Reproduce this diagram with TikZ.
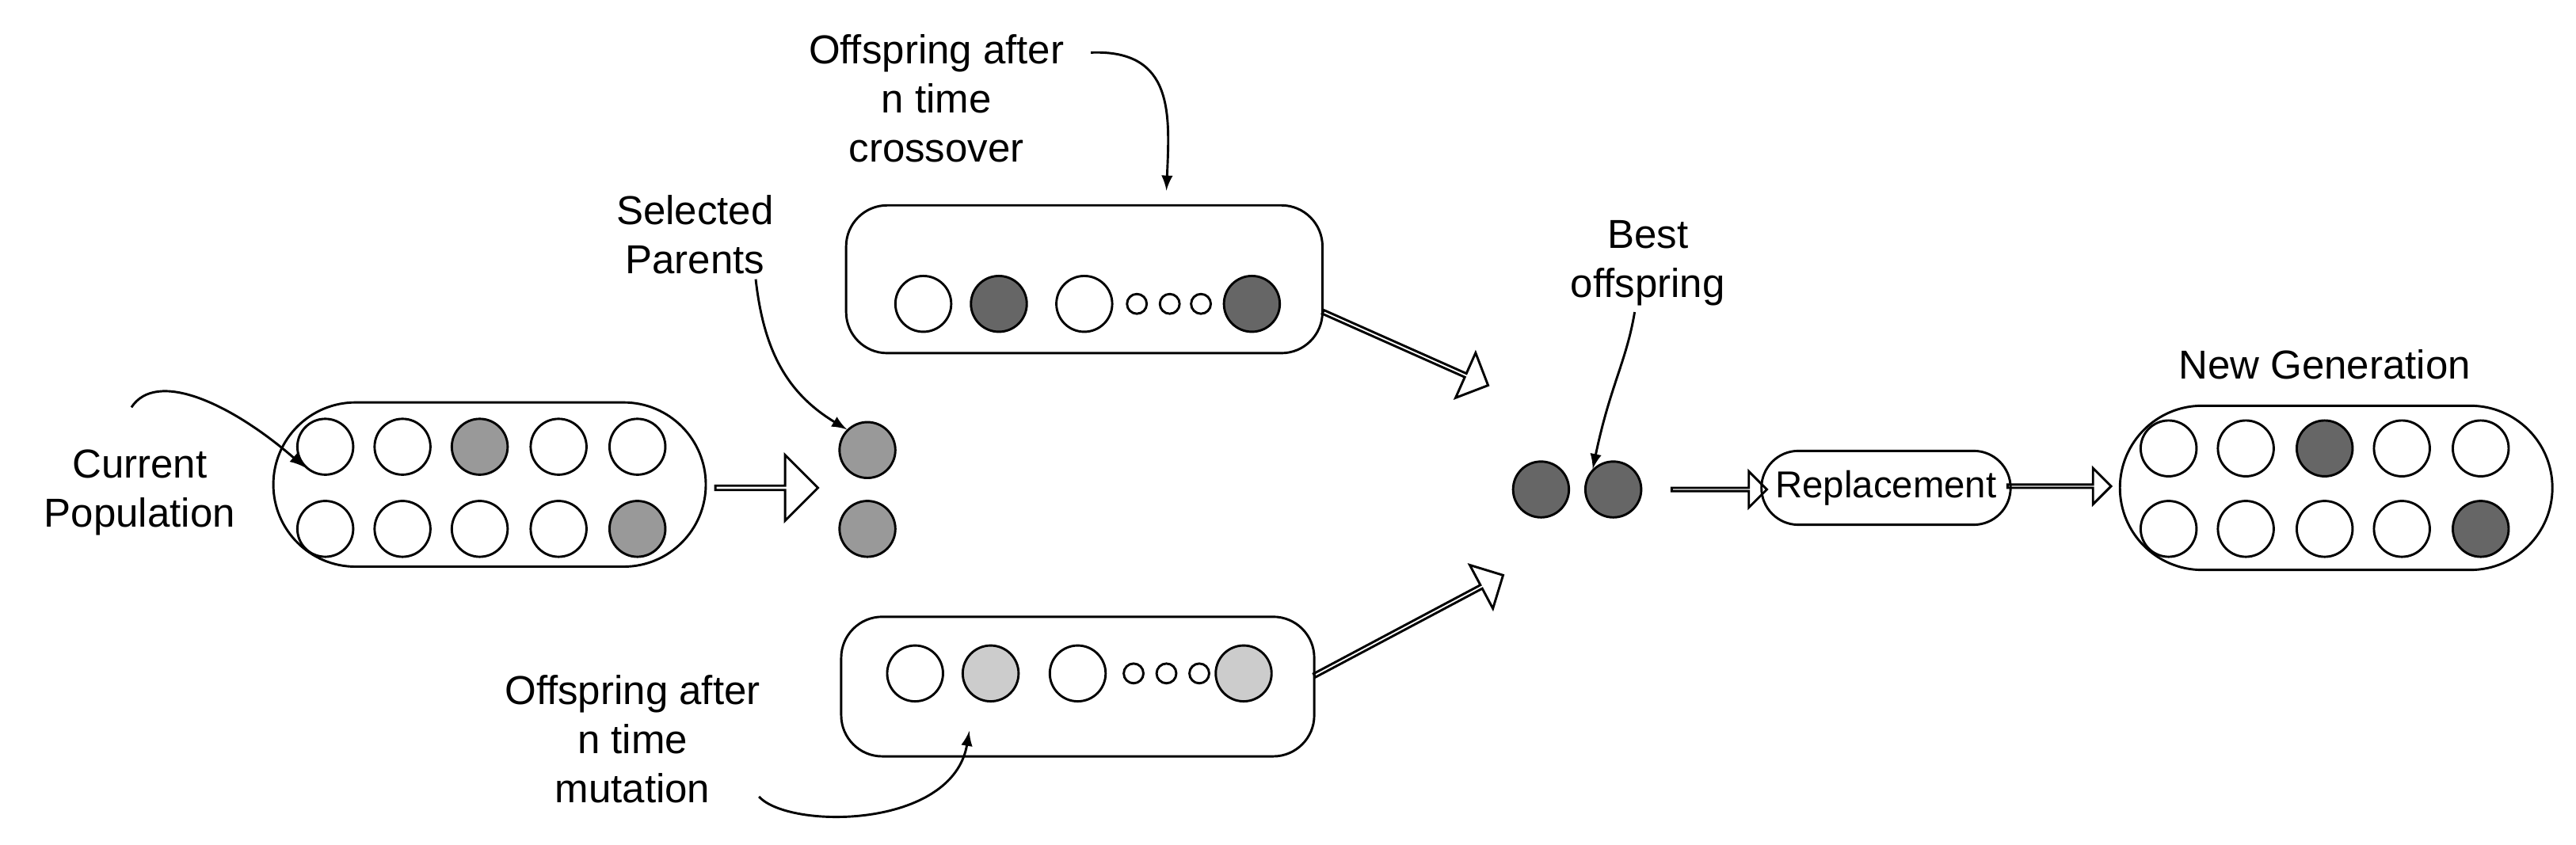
\documentclass[tikz,border=0pt]{standalone}
\usepackage{fontspec}
\setmainfont{Liberation Sans}
\usetikzlibrary{shapes.misc,shapes.arrows,positioning}

\definecolor{midgray}{HTML}{999999}
\definecolor{darkgray}{HTML}{666666}
\definecolor{lightgray}{HTML}{CCCCCC}

\tikzset{
  pop/.style={draw, thick, rounded rectangle, minimum width=5.5cm, minimum height=2cm},
  pool/.style={draw, thick, rounded corners=0.5cm, minimum width=5.8cm, minimum height=1.8cm},
  ind/.style={draw, thick, circle, minimum size=0.68cm, inner sep=0pt},
  dot/.style={draw, thick, circle, minimum size=0.24cm, inner sep=0pt},
  blk/.style={draw, thick, single arrow, minimum height=1.25cm, minimum width=0.8cm,
    single arrow head extend=0.2cm, inner sep=0pt},
  lbl/.style={align=center, font=\fontsize{14}{17}\selectfont},
  curv/.style={-latex, thick}
}

\begin{document}
\begin{tikzpicture}[x=0.02cm, y=-0.02cm]
  \useasboundingbox (0,0) rectangle (1568,514);

  % current population
  \node[pop] (cur) at (298,295) {};
  \foreach \x/\c [count=\i] in {198/white,245/white,292/midgray,340/white,388/white}
    \node[ind, fill=\c] (ca\i) at (\x,272) {};
  \foreach \x/\c [count=\i] in {198/white,245/white,292/white,340/white,388/midgray}
    \node[ind, fill=\c] (cb\i) at (\x,322) {};
  \node[lbl] (curlbl) at (85,300) {Current\\Population};

  % selected parents
  \node[blk] (a1) at (466,297) {};
  \node[ind, fill=midgray] (p1) at (528,274) {};
  \node[ind, fill=midgray] (p2) at (528,322) {};
  \node[lbl] (sellbl) at (423,143) {Selected\\Parents};

  % crossover pool
  \node[pool] (xo) at (660,170) {};
  \node[ind] (x1) at (562,185) {};
  \node[ind, fill=darkgray] (x2) at (608,185) {};
  \node[ind] (x3) at (660,185) {};
  \foreach \x [count=\i] in {692,712,731} \node[dot] (xd\i) at (\x,185) {};
  \node[ind, fill=darkgray] (x4) at (762,185) {};
  \node[lbl] (xolbl) at (570,60) {Offspring after\\n time\\crossover};

  % mutation pool
  \node[pool, minimum width=5.76cm, minimum height=1.7cm] (mu) at (656,418) {};
  \node[ind] (m1) at (557,410) {};
  \node[ind, fill=lightgray] (m2) at (603,410) {};
  \node[ind] (m3) at (656,410) {};
  \foreach \x [count=\i] in {690,710,730} \node[dot] (md\i) at (\x,410) {};
  \node[ind, fill=lightgray] (m4) at (757,410) {};
  \node[lbl] (mulbl) at (385,450) {Offspring after\\n time\\mutation};

  \node[blk, rotate=-24, minimum height=2.2cm, minimum width=0.6cm,
    single arrow head extend=0.16cm] (a2) at (855,212) {};
  \node[blk, rotate=28, minimum height=2.6cm, minimum width=0.6cm,
    single arrow head extend=0.16cm] (a3) at (857,381) {};

  % best offspring
  \node[ind, fill=darkgray] (b1) at (938,298) {};
  \node[ind, fill=darkgray] (b2) at (982,298) {};
  \node[lbl] (bestlbl) at (1003,160) {Best\\offspring};

  \node[blk, minimum height=1.16cm, minimum width=0.44cm,
    single arrow head extend=0.14cm] (a4) at (1046,298) {};
  \node[draw, thick, rounded rectangle, minimum width=2.94cm, minimum height=0.9cm,
    font=\fontsize{13}{15}\selectfont] (rep) at (1148,297) {Replacement};
  \node[blk, minimum height=1.26cm, minimum width=0.44cm,
    single arrow head extend=0.14cm] (a5) at (1253,296) {};

  % new generation
  \node[pop] (new) at (1422,297) {};
  \foreach \x/\c [count=\i] in {1320/white,1367/white,1415/darkgray,1462/white,1510/white}
    \node[ind, fill=\c] (na\i) at (\x,273) {};
  \foreach \x/\c [count=\i] in {1320/white,1367/white,1415/white,1462/white,1510/darkgray}
    \node[ind, fill=\c] (nb\i) at (\x,322) {};
  \node[lbl] (newlbl) at (1415,222) {New Generation};

  % pointers
  \coordinate (xotip) at (710,116);
  \coordinate (mustart) at (462,485);
  \coordinate (mutip) at (590,445);
  \coordinate (curstart) at (80,248);
  \coordinate (selstart) at (460,170);
  \coordinate (xostart) at (664,32);
  \coordinate (beststart) at (995,190);
  \draw[curv] (curstart) .. controls (95,225) and (140,245) .. (ca1.south west);
  \draw[curv] (selstart) .. controls (465,215) and (480,240) .. (p1.north west);
  \draw[curv] (xostart) .. controls (715,30) and (712,70) .. (xotip);
  \draw[curv] (beststart) .. controls (990,220) and (980,235) .. (b2.north west);
  \draw[curv] (mustart) .. controls (480,505) and (580,505) .. (mutip);
\end{tikzpicture}
\end{document}
